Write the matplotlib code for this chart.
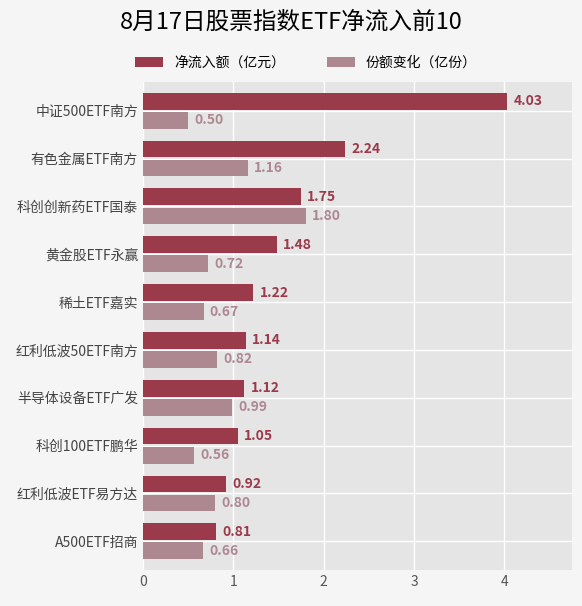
import matplotlib.pyplot as plt
import numpy as np
plt.rcParams['font.family'] = ['Noto Sans CJK SC', 'DejaVu Sans']

categories = ['中证500ETF南方','有色金属ETF南方','科创创新药ETF国泰','黄金股ETF永赢','稀土ETF嘉实',
              '红利低波50ETF南方','半导体设备ETF广发','科创100ETF鹏华','红利低波ETF易方达','A500ETF招商']
inflow = [4.03,2.24,1.75,1.48,1.22,1.14,1.12,1.05,0.92,0.81]
shares = [0.50,1.16,1.80,0.72,0.67,0.82,0.99,0.56,0.80,0.66]
c1, c2 = '#9b3a4a', '#ad8890'

fig = plt.figure(figsize=(5.82,6.06), dpi=100, facecolor='#f5f5f5')
ax = fig.add_axes([143/582, 1-570/606, 429/582, 488/606])
ax.set_facecolor('#e5e5e5')
y = np.arange(len(categories))
h = 0.35
ax.barh(y-0.2, inflow, height=h, color=c1, label='净流入额（亿元）', zorder=3)
ax.barh(y+0.2, shares, height=h, color=c2, label='份额变化（亿份）', zorder=3)
for i in y:
    ax.text(inflow[i]+0.07, i-0.2, f'{inflow[i]:.2f}', va='center', color=c1, fontsize=10, fontweight='bold')
    ax.text(shares[i]+0.07, i+0.2, f'{shares[i]:.2f}', va='center', color=c2, fontsize=10, fontweight='bold')
ax.set_yticks(y)
ax.set_yticklabels(categories, fontsize=10, color='#444444')
ax.set_ylim(9.6, -0.6)
ax.set_xlim(0, 4.75)
ax.set_xticks([0,1,2,3,4])
ax.tick_params(axis='x', labelsize=10, colors='#555555', length=0)
ax.tick_params(axis='y', length=0)
ax.grid(True, color='white', linewidth=1, zorder=0)
for s in ax.spines.values():
    s.set_visible(False)
fig.text(0.5, 1-22/606, '8月17日股票指数ETF净流入前10', ha='center', va='center', fontsize=17)
ax.legend(loc='lower center', bbox_to_anchor=(0.38, 1.0), ncol=2, frameon=False, fontsize=10,
          handlelength=2, columnspacing=3)
fig.savefig('out.png', dpi=100, facecolor=fig.get_facecolor())
